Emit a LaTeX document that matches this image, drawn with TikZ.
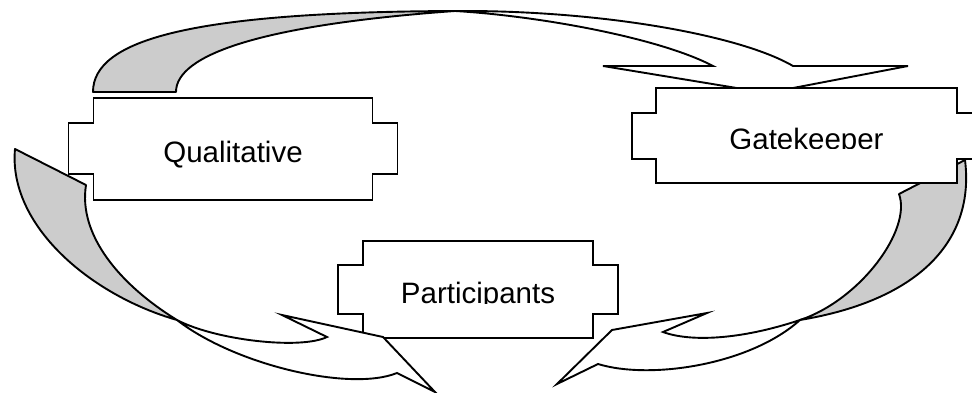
\documentclass[tikz,border=0pt]{standalone}
\usepackage{fontspec}
\setmainfont{Liberation Sans}
\usepackage{tikz}
\usetikzlibrary{calc}
\definecolor{ribbongray}{RGB}{204,204,204}
\tikzset{
  ribbonback/.style={draw=black, fill=ribbongray, line width=1.9pt, line join=round},
  ribbonfront/.style={draw=black, fill=white, line width=1.9pt, line join=miter},
  plaquebox/.style={fill=white, inner sep=0pt, outer sep=0pt, text height=28pt, text depth=0pt,
    font=\fontsize{29.5}{30}\selectfont},
  edgeline/.style={draw=black, line width=1.9pt}
}
\newcommand{\plaqueedge}[4]{%
  \fill[white] ([shift={(-#2,#3)}]#1.north west) rectangle ([shift={(0,-#4)}]#1.south west);
  \fill[white] ([shift={(0,#3)}]#1.north east) rectangle ([shift={(#2,-#4)}]#1.south east);
  \draw[edgeline] (#1.north west) -- (#1.north east) -- ++(0,#3) -- ++(#2,0)
    -- ([shift={(#2,-#4)}]#1.south east) -- ++(-#2,0) -- (#1.south east)
    -- (#1.south west) -- ++(0,-#4) -- ++(-#2,0)
    -- ([shift={(-#2,#3)}]#1.north west) -- ++(#2,0) -- cycle;
}
\newcommand{\cutdescent}[1]{%
  \fill[white] ([shift={(1.5,14)}]#1.west) rectangle ([shift={(-1.5,-1.5)}]#1.south east);
}
\begin{document}
\begin{tikzpicture}[x=1pt, y={(0pt,-1pt)}]
  \useasboundingbox (0,0) rectangle (972,393);
  \clip (0,0) rectangle (972,393);

  \coordinate (qg-a) at (93,92);   \coordinate (qg-b) at (176,92);
  \coordinate (qg-x) at (455,11);
  \coordinate (qg-n1) at (713,66); \coordinate (qg-w1) at (603,66);
  \coordinate (qg-tip) at (767,93);
  \coordinate (qg-w2) at (908,66); \coordinate (qg-n2) at (793,66);
  \filldraw[ribbonback] (qg-a) .. controls (93,40) and (190,12) .. (qg-x)
    .. controls (260,25) and (176,55) .. (qg-b) -- cycle;
  \filldraw[ribbonfront] (qg-x) .. controls (540,16) and (660,38) .. (qg-n1) -- (qg-w1) -- (qg-tip)
    -- (qg-w2) -- (qg-n2) .. controls (740,35) and (600,10) .. (qg-x) -- cycle;

  \coordinate (gp-a) at (965,160); \coordinate (gp-b) at (899,194);
  \coordinate (gp-x) at (800,320);
  \coordinate (gp-n1) at (663,332); \coordinate (gp-w1) at (707,313);
  \coordinate (gp-tip) at (612,330);
  \coordinate (gp-w2) at (557,384); \coordinate (gp-n2) at (598,364);
  \filldraw[ribbonback] (gp-a) .. controls (975,240) and (920,300) .. (gp-x)
    .. controls (860,300) and (912,230) .. (gp-b) -- cycle;
  \filldraw[ribbonfront] (gp-x) .. controls (740,340) and (690,342) .. (gp-n1) -- (gp-w1) -- (gp-tip)
    -- (gp-w2) -- (gp-n2) .. controls (650,380) and (750,365) .. (gp-x) -- cycle;

  \node[plaquebox, minimum width=301, minimum height=95] (gate) at (806.5,135.5) {Gatekeeper};
  \plaqueedge{gate}{24}{25}{24}
  \cutdescent{gate}

  \node[plaquebox, minimum width=279, minimum height=102] (qual) at (233,149) {Qualitative};
  \plaqueedge{qual}{25}{25}{26}

  \node[plaquebox, minimum width=230, minimum height=97] (part) at (478,289.5) {Participants};
  \plaqueedge{part}{25}{24}{24}
  \cutdescent{part}

  \coordinate (qp-a) at (15,149);  \coordinate (qp-b) at (86,185);
  \coordinate (qp-x) at (177,320);
  \coordinate (qp-n1) at (327,337); \coordinate (qp-w1) at (282,315);
  \coordinate (qp-tip) at (383,337);
  \coordinate (qp-w2) at (435,392); \coordinate (qp-n2) at (397,373);
  \filldraw[ribbonback] (qp-a) .. controls (8,225) and (90,295) .. (qp-x)
    .. controls (120,285) and (78,235) .. (qp-b) -- cycle;
  \filldraw[ribbonfront] (qp-x) .. controls (215,340) and (300,350) .. (qp-n1) -- (qp-w1) -- (qp-tip)
    -- (qp-w2) -- (qp-n2) .. controls (350,392) and (235,365) .. (qp-x) -- cycle;
\end{tikzpicture}
\end{document}
